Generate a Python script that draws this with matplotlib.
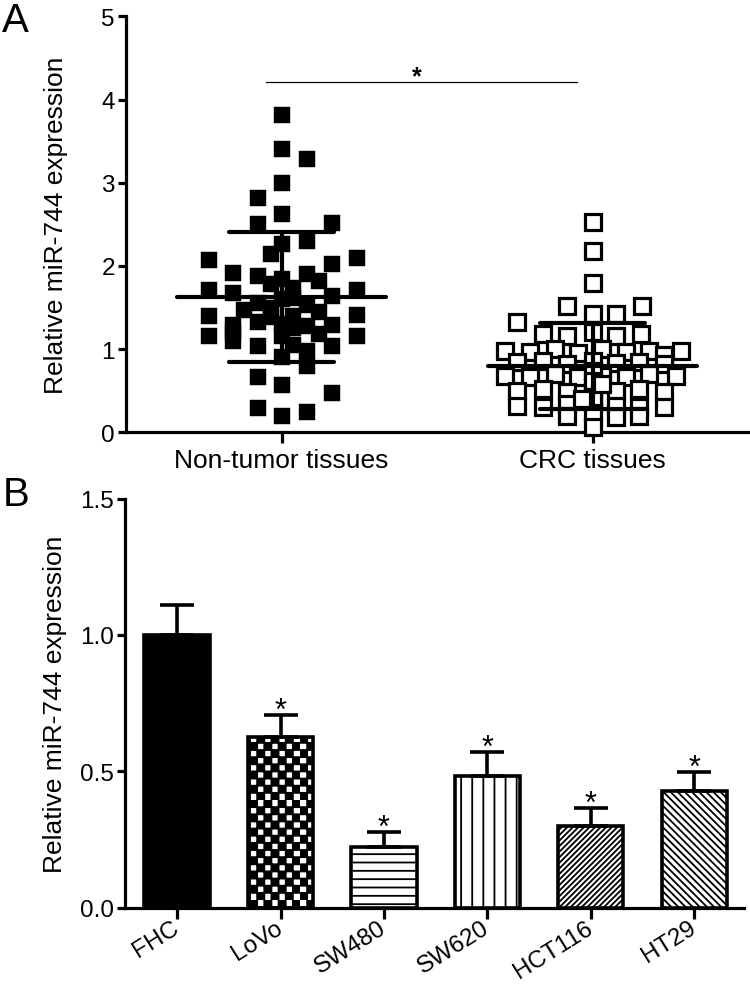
import numpy as np
import matplotlib
matplotlib.use('Agg')
import matplotlib.pyplot as plt
import matplotlib.hatch as mhatch
from matplotlib.path import Path

# ---------------- data ----------------
groups_a = ['Non-tumor tissues', 'CRC tissues']
nontumor_offsets = [0.00, 0.00, 0.083, 0.00, -0.077, 0.00, -0.077, 0.163, 0.083, 0.00,
                    -0.035, -0.234, 0.244, -0.157, 0.163, -0.077, 0.083, -0.035, 0.00, 0.119,
                    -0.234, -0.157, 0.244, 0.038, 0.163, -0.077, 0.00, -0.122, -0.035, 0.083,
                    -0.234, 0.244, -0.157, -0.077, 0.00, 0.038, 0.083, 0.163, -0.234, -0.157,
                    0.244, -0.077, 0.00, 0.163, 0.083, 0.00, 0.083, -0.077, 0.00, 0.163,
                    -0.077, 0.00, 0.083, 0.038, 0.038, 0.119, -0.157, -0.035, 0.119, 0.038]
nontumor_values = [3.81, 3.41, 3.28, 3.00, 2.82, 2.62, 2.50, 2.51, 2.30, 2.26,
                   2.14, 2.07, 2.10, 1.91, 2.02, 1.88, 1.90, 1.78, 1.84, 1.82,
                   1.71, 1.68, 1.71, 1.74, 1.64, 1.56, 1.60, 1.47, 1.50, 1.53,
                   1.40, 1.41, 1.29, 1.33, 1.30, 1.25, 1.28, 1.29, 1.16, 1.10,
                   1.16, 1.04, 1.16, 1.04, 0.98, 0.90, 0.80, 0.66, 0.57, 0.47,
                   0.29, 0.20, 0.25, 1.62, 1.40, 1.45, 1.20, 1.38, 1.18, 1.05]
crc_offsets = [0.0, 0.0, 0.0, -0.083, 0.160, 0.0, 0.077, -0.244, -0.160, -0.083,
               0.0, 0.077, 0.157, -0.282, -0.202, -0.122, -0.048, 0.032, 0.109, 0.183,
               0.231, 0.285, -0.244, -0.160, -0.083, 0.0, 0.077, 0.151, 0.231, -0.282,
               -0.202, -0.122, -0.048, 0.032, 0.109, 0.183, 0.269, -0.244, -0.160, -0.083,
               0.0, 0.077, 0.151, 0.231, -0.244, -0.160, -0.083, 0.0, 0.077, 0.151,
               0.231, -0.083, 0.0, 0.077, 0.151, 0.0, 0.0, 0.0, 0.0, 0.032, -0.035]
crc_values = [2.53, 2.18, 1.80, 1.52, 1.52, 1.42, 1.42, 1.32, 1.18, 1.16,
              1.20, 1.16, 1.18, 0.98, 0.96, 1.00, 0.95, 1.00, 0.96, 0.98,
              0.93, 0.98, 0.84, 0.86, 0.82, 0.86, 0.83, 0.85, 0.82, 0.68,
              0.66, 0.70, 0.66, 0.68, 0.66, 0.70, 0.68, 0.50, 0.52, 0.48,
              0.55, 0.50, 0.52, 0.48, 0.32, 0.30, 0.34, 0.36, 0.32, 0.30,
              0.30, 0.20, 0.24, 0.18, 0.20, 0.06, 0.74, 0.62, 0.42, 0.58, 0.40]
group_means = [1.63, 0.80]
group_sds = [0.78, 0.515]
sig_a_y = 4.21
yticks_a = [0, 1, 2, 3, 4, 5]

cell_lines = ['FHC', 'LoVo', 'SW480', 'SW620', 'HCT116', 'HT29']
cell_means = [1.00, 0.625, 0.222, 0.482, 0.299, 0.427]
cell_errs = [0.11, 0.081, 0.055, 0.088, 0.066, 0.070]
cell_sig = ['', '*', '*', '*', '*', '*']
yticks_b = [0.0, 0.5, 1.0, 1.5]

# ---------------- custom hatches ----------------
if hasattr(mhatch, '_validate_hatch_pattern'):
    mhatch._validate_hatch_pattern = lambda h: None


class CheckerHatch(mhatch.HatchPatternBase):
    def __init__(self, hatch, density):
        self.n = hatch.count('k') * 14
        self.num_vertices = (self.n * self.n // 2) * 5

    def set_vertices_and_codes(self, vertices, codes):
        s = 1.0 / self.n
        k = 0
        for i in range(self.n):
            for j in range(self.n):
                if (i + j) % 2 == 0:
                    x0, y0 = i * s, j * s
                    vertices[k:k + 5] = [(x0, y0), (x0 + s, y0), (x0 + s, y0 + s),
                                         (x0, y0 + s), (x0, y0)]
                    codes[k] = Path.MOVETO
                    codes[k + 1:k + 4] = Path.LINETO
                    codes[k + 4] = Path.CLOSEPOLY
                    k += 5


class HLines(mhatch.HorizontalHatch):
    def __init__(self, hatch, density):
        self.num_lines = hatch.count('h') * 12
        self.num_vertices = self.num_lines * 2


class VLines(mhatch.VerticalHatch):
    def __init__(self, hatch, density):
        self.num_lines = hatch.count('v') * 9
        self.num_vertices = self.num_lines * 2


class NELines(mhatch.NorthEastHatch):
    def __init__(self, hatch, density):
        self.num_lines = hatch.count('n') * 36
        self.num_vertices = (self.num_lines + 1) * 2 if self.num_lines else 0


class SELines(mhatch.SouthEastHatch):
    def __init__(self, hatch, density):
        self.num_lines = hatch.count('s') * 28
        self.num_vertices = (self.num_lines + 1) * 2 if self.num_lines else 0


mhatch._hatch_types.extend([CheckerHatch, HLines, VLines, NELines, SELines])
bar_hatches = [None, 'k', 'h', 'v', 'n', 's']
bar_faces = ['black', 'white', 'white', 'white', 'white', 'white']

# ---------------- fonts ----------------
plt.rcParams['font.family'] = ['Liberation Sans', 'DejaVu Sans']
plt.rcParams['hatch.linewidth'] = 1.3

fig = plt.figure(figsize=(7.5, 9.87), dpi=100)
W, H = 750.0, 987.0
ax_a = fig.add_axes([126 / W, 1 - 433.3 / H, (748 - 126) / W, (433.3 - 17.3) / H])
ax_b = fig.add_axes([125 / W, 1 - 908.5 / H, (744 - 125) / W, (908.5 - 499.5) / H])

for ax in (ax_a, ax_b):
    for sp in ('top', 'right'):
        ax.spines[sp].set_visible(False)
    for sp in ('left', 'bottom'):
        ax.spines[sp].set_linewidth(2.3)
    ax.tick_params(axis='both', direction='out', length=6, width=2.3, pad=2,
                   labelsize=17.5, colors='black')

# ---------------- panel A ----------------
xa = np.arange(len(groups_a))
ax_a.plot(xa[0] + np.array(nontumor_offsets), nontumor_values, linestyle='none',
          marker='s', markersize=12.2, markerfacecolor='black', markeredgecolor='black',
          markeredgewidth=0.3, clip_on=False, zorder=3)
ax_a.plot(xa[1] + np.array(crc_offsets), crc_values, linestyle='none',
          marker='s', markersize=11.3, markerfacecolor='white', markeredgecolor='black',
          markeredgewidth=2.3, clip_on=False, zorder=3)
for i in range(len(groups_a)):
    m, s = group_means[i], group_sds[i]
    ax_a.hlines(m, xa[i] - 0.335, xa[i] + 0.335, colors='black', linewidth=3,
                capstyle='round', zorder=5)
    ax_a.hlines([m - s, m + s], xa[i] - 0.17, xa[i] + 0.17, colors='black',
                linewidth=3, capstyle='round', zorder=5)
    ax_a.vlines(xa[i], m - s, m + s, colors='black', linewidth=3, zorder=5)

ax_a.plot([xa[0] - 0.05, xa[1] - 0.05], [sig_a_y, sig_a_y], color='black', linewidth=0.9)
ax_a.annotate('*', xy=((xa[0] + xa[1]) / 2 - 0.066, sig_a_y), xytext=(0, -1),
              textcoords='offset points', ha='center', va='baseline', fontsize=18,
              fontweight='bold')

ax_a.set_xlim(-0.5, 1.5)
ax_a.set_ylim(0, 5)
ax_a.set_yticks(yticks_a)
ax_a.set_yticklabels([str(t) for t in yticks_a])
ax_a.set_xticks(xa)
ax_a.set_xticklabels(groups_a, fontsize=19)
ax_a.tick_params(axis='x', length=8, pad=3)
ax_a.set_ylabel('Relative miR-744 expression', fontsize=19)
ax_a.yaxis.set_label_coords(-0.094, 0.5)

# ---------------- panel B ----------------
xb = np.arange(len(cell_lines))
bars = ax_b.bar(xb, cell_means, width=0.63, color=bar_faces, edgecolor='black',
                linewidth=2.6, zorder=2)
for b, h in zip(bars, bar_hatches):
    if h:
        b.set_hatch(h)
ax_b.errorbar(xb, cell_means, yerr=[np.zeros(len(cell_errs)), cell_errs], fmt='none',
              ecolor='black', elinewidth=2.6, capsize=12, capthick=2.6, zorder=3)
for i in range(len(cell_lines)):
    if cell_sig[i]:
        ax_b.annotate(cell_sig[i], xy=(xb[i], cell_means[i] + cell_errs[i]),
                      xytext=(0, -2.5), textcoords='offset points', ha='center',
                      va='baseline', fontsize=22)

ax_b.set_xlim(-0.503, 5.48)
ax_b.set_ylim(0, 1.5)
ax_b.set_yticks(yticks_b)
ax_b.set_yticklabels(['%.1f' % t for t in yticks_b])
ax_b.set_xticks(xb)
ax_b.set_xticklabels(cell_lines, fontsize=17.5, rotation=32,
                     ha='right', va='center', rotation_mode='anchor')
ax_b.tick_params(axis='x', length=8, pad=5)
ax_b.set_ylabel('Relative miR-744 expression', fontsize=19)
ax_b.yaxis.set_label_coords(-0.093, 0.5)

# panel letters
fig.text(2 / W, 1 - 32 / H, 'A', fontsize=29, ha='left', va='baseline')
fig.text(3 / W, 1 - 506 / H, 'B', fontsize=29, ha='left', va='baseline')

fig.savefig('out.png', dpi=100)
